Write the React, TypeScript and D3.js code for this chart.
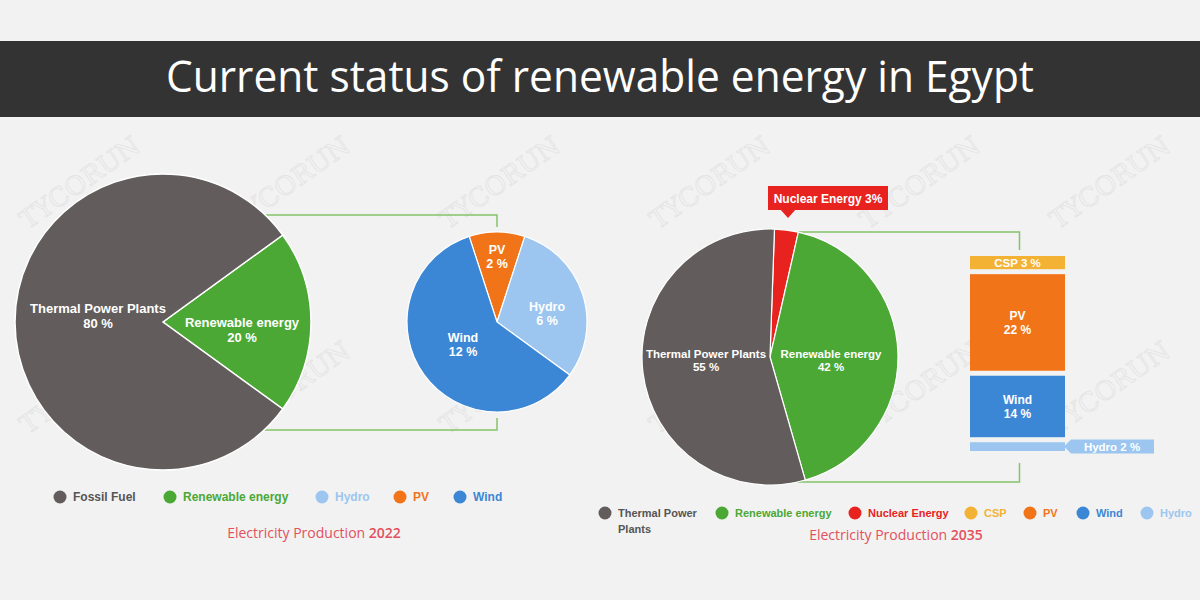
import React from "react";
import * as d3 from "d3";

const TITLE = "Current status of renewable energy in Egypt";

// 2022 main pie
const main2022Labels = ["Renewable energy", "Thermal Power Plants"];
const main2022Values = [20, 80];
// 2022 renewable breakdown
const sub2022Labels = ["PV", "Hydro", "Wind"];
const sub2022Values = [2, 6, 12];
// 2035 main pie
const main2035Labels = ["Nuclear Energy", "Renewable energy", "Thermal Power Plants"];
const main2035Values = [3, 42, 55];
// 2035 renewable breakdown (stacked bar, top to bottom)
const bar2035Labels = ["CSP", "PV", "Wind", "Hydro"];
const bar2035Values = [3, 22, 14, 2];

const legend2022Labels = ["Fossil Fuel", "Renewable energy", "Hydro", "PV", "Wind"];
const legend2035Labels = ["Thermal Power|Plants", "Renewable energy", "Nuclear Energy", "CSP", "PV", "Wind", "Hydro"];

const C = {
  gray: "#625d5c",
  green: "#4ba834",
  line: "#84c46a",
  lblue: "#9cc6ef",
  orange: "#f27419",
  blue: "#3b87d5",
  red: "#e8231f",
  amber: "#f4b234",
  bg: "#f2f2f2",
  header: "#333333",
  caption: "#e2505e",
};

const colorOf: Record<string, string> = {
  "Thermal Power Plants": C.gray,
  "Fossil Fuel": C.gray,
  "Thermal Power|Plants": C.gray,
  "Renewable energy": C.green,
  Hydro: C.lblue,
  PV: C.orange,
  Wind: C.blue,
  "Nuclear Energy": C.red,
  CSP: C.amber,
};

const BOLD = "'Liberation Sans', Arial, sans-serif";
const deg = Math.PI / 180;

function pieData(values: number[], start: number) {
  return d3.pie<number>().sort(null).startAngle(start).endAngle(start + 2 * Math.PI)(values);
}

function Watermarks() {
  const rows = [190, 395];
  const cols = [85, 295, 505, 715, 925, 1115];
  const items: JSX.Element[] = [];
  rows.forEach((y, ri) =>
    cols.forEach((x, ci) =>
      items.push(
        <text
          key={`${ri}-${ci}`}
          x={x}
          y={y}
          transform={`rotate(-35 ${x} ${y})`}
          textAnchor="middle"
          fontFamily="'DejaVu Serif', serif"
          fontSize={26}
          fill="none"
          stroke="#dedede"
          strokeWidth={0.8}
          opacity={0.7}
        >
          TYCORUN
        </text>
      )
    )
  );
  return <g>{items}</g>;
}

function TwoLine({ x, y, a, b, size = 12.5 }: { x: number; y: number; a: string; b: string; size?: number }) {
  return (
    <text x={x} y={y} textAnchor="middle" fontFamily={BOLD} fontWeight="bold" fontSize={size} fill="#fff">
      <tspan x={x}>{a}</tspan>
      <tspan x={x} dy={size * 1.15}>{b}</tspan>
    </text>
  );
}

export default function App() {
  // ---------- 2022 ----------
  const c1 = { x: 163, y: 322, r: 148 };
  const arc1 = d3.arc<d3.PieArcDatum<number>>().innerRadius(0).outerRadius(c1.r);
  const p1 = pieData(main2022Values, Math.PI / 2 - Math.PI * (main2022Values[0] / 100));

  const c2 = { x: 497, y: 322, r: 90 };
  const arc2 = d3.arc<d3.PieArcDatum<number>>().innerRadius(0).outerRadius(c2.r);
  const subTotal = d3.sum(sub2022Values);
  const p2 = pieData(sub2022Values, -Math.PI * (sub2022Values[0] / subTotal));

  const lineTopY1 = 215;
  const lineBotY1 = 430;
  const edgeX1 = (y: number) => c1.x + Math.sqrt(c1.r * c1.r - (y - c1.y) * (y - c1.y));

  // ---------- 2035 ----------
  const c3 = { x: 770, y: 357, r: 128 };
  const arc3 = d3.arc<d3.PieArcDatum<number>>().innerRadius(0).outerRadius(c3.r);
  const p3 = pieData(main2035Values, 2 * deg);

  const barX = 970;
  const barW = 95;
  const barTop = 256;
  const gap = 5;
  const hScale = d3.scaleLinear().domain([0, 1]).range([0, 4.39]);
  let acc = barTop;
  const segs = bar2035Values.map((v, i) => {
    const h = hScale(v);
    const s = { label: bar2035Labels[i], v, y: acc, h };
    acc += h + gap;
    return s;
  });
  const barCx = barX + barW / 2;
  const lineTopY3 = 232;
  const lineBotY3 = 482;
  const edgeX3 = (y: number) => c3.x + Math.sqrt(Math.max(0, c3.r * c3.r - (y - c3.y) * (y - c3.y)));

  const hydro = segs[3];
  const hyMid = hydro.y + hydro.h / 2;

  // legends
  const leg1X = [60, 170, 322, 400, 460];
  const leg2X = [605, 722, 855, 971, 1030, 1083, 1147];

  return (
    <svg width={1200} height={600} style={{ position: "absolute", left: 0, top: 0 }}>
      <rect width={1200} height={600} fill={C.bg} />
      <Watermarks />

      {/* header */}
      <rect x={0} y={41} width={1200} height={76} fill={C.header} />
      <text
        x={600}
        y={92}
        textAnchor="middle"
        fontFamily="'Open Sans', 'Noto Sans', sans-serif"
        fontSize={44}
        fill="#fff"
        textLength={868}
        lengthAdjust="spacingAndGlyphs"
      >
        {TITLE}
      </text>

      {/* connectors 2022 */}
      <path
        d={`M${edgeX1(lineTopY1)},${lineTopY1}H${c2.x}V${c2.y - c2.r - 5}`}
        fill="none"
        stroke={C.line}
        strokeWidth={1.5}
      />
      <path
        d={`M${edgeX1(lineBotY1)},${lineBotY1}H${c2.x}V${c2.y + c2.r + 6}`}
        fill="none"
        stroke={C.line}
        strokeWidth={1.5}
      />

      {/* main pie 2022 */}
      <g transform={`translate(${c1.x},${c1.y})`}>
        {p1.map((d, i) => (
          <path key={i} d={arc1(d) || ""} fill={colorOf[main2022Labels[i]]} stroke="#fff" strokeWidth={1.5} />
        ))}
      </g>
      <TwoLine x={98} y={313} a="Thermal Power Plants" b={`${main2022Values[1]} %`} size={13} />
      <TwoLine x={242} y={327} a="Renewable energy" b={`${main2022Values[0]} %`} size={13} />

      {/* sub pie 2022 */}
      <g transform={`translate(${c2.x},${c2.y})`}>
        {p2.map((d, i) => (
          <path key={i} d={arc2(d) || ""} fill={colorOf[sub2022Labels[i]]} stroke="#fff" strokeWidth={1.2} />
        ))}
      </g>
      <TwoLine x={497} y={254} a="PV" b={`${sub2022Values[0]} %`} size={12.5} />
      <TwoLine x={547} y={311} a="Hydro" b={`${sub2022Values[1]} %`} size={12.5} />
      <TwoLine x={463} y={342} a="Wind" b={`${sub2022Values[2]} %`} size={12.5} />

      {/* connectors 2035 */}
      <path
        d={`M${edgeX3(lineTopY3)},${lineTopY3}H${barCx + 2}V${barTop - 6}`}
        fill="none"
        stroke={C.line}
        strokeWidth={1.5}
      />
      <path
        d={`M${edgeX3(lineBotY3)},${lineBotY3}H${barCx + 2}V${acc - gap + 12}`}
        fill="none"
        stroke={C.line}
        strokeWidth={1.5}
      />

      {/* main pie 2035 */}
      <g transform={`translate(${c3.x},${c3.y})`}>
        {p3.map((d, i) => (
          <path key={i} d={arc3(d) || ""} fill={colorOf[main2035Labels[i]]} stroke="#fff" strokeWidth={1.2} />
        ))}
      </g>
      <TwoLine x={706} y={358} a="Thermal Power Plants" b={`${main2035Values[2]} %`} size={11.5} />
      <TwoLine x={831} y={358} a="Renewable energy" b={`${main2035Values[1]} %`} size={11.5} />

      {/* nuclear tag */}
      <rect x={768} y={186} width={120} height={24} fill={C.red} />
      <polygon points="780,209 796,209 788,218" fill={C.red} />
      <text x={828} y={202.5} textAnchor="middle" fontFamily={BOLD} fontWeight="bold" fontSize={12} fill="#fff">
        {`${main2035Labels[0]} ${main2035Values[0]}%`}
      </text>

      {/* stacked bar 2035 */}
      {segs.map((s, i) => (
        <rect key={i} x={barX} y={s.y} width={barW} height={s.h} fill={colorOf[s.label]} />
      ))}
      <text
        x={barCx}
        y={segs[0].y + segs[0].h / 2 + 4}
        textAnchor="middle"
        fontFamily={BOLD}
        fontWeight="bold"
        fontSize={11.5}
        fill="#fff"
      >
        {`${segs[0].label} ${segs[0].v} %`}
      </text>
      <TwoLine x={barCx} y={segs[1].y + segs[1].h / 2 - 2} a={segs[1].label} b={`${segs[1].v} %`} size={12} />
      <TwoLine x={barCx} y={segs[2].y + segs[2].h / 2 - 2} a={segs[2].label} b={`${segs[2].v} %`} size={12} />

      {/* hydro tag */}
      <polygon
        points={`${1064},${hyMid} ${1071},${hyMid - 7} ${1154},${hyMid - 7} ${1154},${hyMid + 7} ${1071},${hyMid + 7}`}
        fill={C.lblue}
      />
      <text x={1112} y={hyMid + 4} textAnchor="middle" fontFamily={BOLD} fontWeight="bold" fontSize={11.5} fill="#fff">
        {`${hydro.label} ${hydro.v} %`}
      </text>

      {/* legend 2022 */}
      {legend2022Labels.map((l, i) => (
        <g key={l}>
          <circle cx={leg1X[i]} cy={497} r={6.5} fill={colorOf[l]} />
          <text
            x={leg1X[i] + 13}
            y={501}
            fontFamily={BOLD}
            fontWeight="bold"
            fontSize={12}
            fill={l === "Fossil Fuel" ? "#555" : colorOf[l]}
          >
            {l}
          </text>
        </g>
      ))}
      <text
        x={314}
        y={538}
        textAnchor="middle"
        fontFamily="'Open Sans', 'Noto Sans', sans-serif"
        fontSize={14}
        fill={C.caption}
      >
        Electricity Production <tspan fontWeight={600}>2022</tspan>
      </text>

      {/* legend 2035 */}
      {legend2035Labels.map((l, i) => {
        const parts = l.split("|");
        return (
          <g key={l}>
            <circle cx={leg2X[i]} cy={513} r={6.5} fill={colorOf[l]} />
            <text
              x={leg2X[i] + 13}
              y={517}
              fontFamily={BOLD}
              fontWeight="bold"
              fontSize={11}
              fill={parts.length > 1 ? "#555" : colorOf[l]}
            >
              {parts.map((p, j) => (
                <tspan key={j} x={leg2X[i] + 13} dy={j === 0 ? 0 : 16}>
                  {p}
                </tspan>
              ))}
            </text>
          </g>
        );
      })}
      <text
        x={896}
        y={540}
        textAnchor="middle"
        fontFamily="'Open Sans', 'Noto Sans', sans-serif"
        fontSize={14}
        fill={C.caption}
      >
        Electricity Production <tspan fontWeight={600}>2035</tspan>
      </text>
    </svg>
  );
}
